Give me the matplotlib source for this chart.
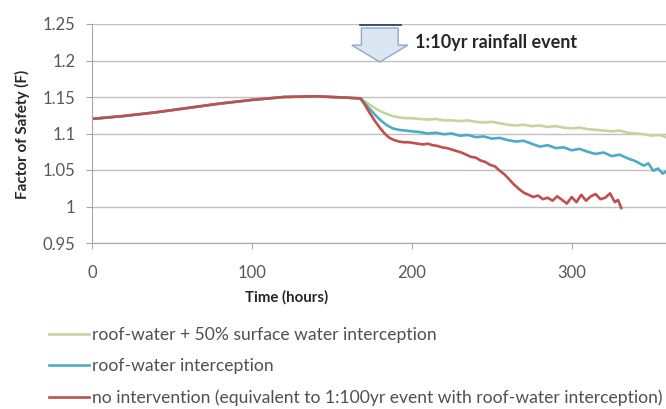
import matplotlib.pyplot as plt
import matplotlib as mpl
from matplotlib.ticker import FuncFormatter

mpl.rcParams['font.family'] = ['Lato', 'DejaVu Sans']

# shared build-up before the rainfall event
t_pre = [0, 20, 40, 60, 80, 100, 120, 140, 160, 168]
f_pre = [1.120, 1.124, 1.129, 1.135, 1.141, 1.146, 1.150, 1.151, 1.149, 1.148]

# roof-water + 50% surface water interception
t_green = [172, 176, 180, 184, 188, 192, 196, 200, 205, 210, 215, 220, 225, 230, 235,
           240, 245, 250, 255, 260, 265, 270, 275, 280, 285, 290, 295, 300, 305, 310,
           315, 320, 325, 330, 335, 340, 345, 350, 355, 359]
f_green = [1.142, 1.136, 1.131, 1.127, 1.124, 1.122, 1.121, 1.121, 1.120, 1.119, 1.120,
           1.118, 1.118, 1.117, 1.118, 1.116, 1.115, 1.116, 1.114, 1.112, 1.111, 1.112,
           1.110, 1.111, 1.109, 1.110, 1.108, 1.107, 1.108, 1.106, 1.105, 1.104, 1.103,
           1.104, 1.101, 1.100, 1.099, 1.097, 1.098, 1.095]

# roof-water interception
t_blue = [172, 176, 180, 184, 188, 192, 196, 200, 205, 210, 215, 220, 225, 230, 235,
          240, 245, 250, 255, 260, 265, 270, 275, 280, 285, 290, 295, 300, 305, 310,
          315, 320, 325, 330, 335, 340, 345, 348, 351, 354, 357, 359]
f_blue = [1.138, 1.128, 1.119, 1.112, 1.107, 1.105, 1.104, 1.103, 1.102, 1.100, 1.101,
          1.099, 1.100, 1.097, 1.098, 1.095, 1.096, 1.093, 1.094, 1.091, 1.089, 1.090,
          1.086, 1.082, 1.084, 1.080, 1.081, 1.077, 1.079, 1.075, 1.072, 1.074, 1.069,
          1.071, 1.066, 1.062, 1.056, 1.059, 1.049, 1.052, 1.045, 1.048]

# no intervention
t_red = [171, 174, 177, 180, 183, 186, 189, 192, 195, 198, 201, 204, 207, 210, 213,
         216, 219, 222, 225, 228, 231, 234, 237, 240, 243, 246, 249, 252, 255, 258,
         261, 264, 267, 270, 273, 276, 279, 282, 285, 288, 291, 294, 297, 300, 303,
         306, 309, 312, 315, 318, 321, 324, 327, 329, 331]
f_red = [1.138, 1.127, 1.117, 1.108, 1.100, 1.094, 1.091, 1.089, 1.088, 1.088, 1.087,
         1.086, 1.085, 1.086, 1.084, 1.083, 1.081, 1.080, 1.078, 1.076, 1.074, 1.071,
         1.068, 1.067, 1.063, 1.061, 1.057, 1.055, 1.049, 1.044, 1.037, 1.030, 1.024,
         1.019, 1.016, 1.013, 1.015, 1.010, 1.012, 1.008, 1.014, 1.009, 1.004, 1.013,
         1.006, 1.016, 1.008, 1.014, 1.017, 1.010, 1.012, 1.018, 1.006, 1.009, 0.998]

labels = ['roof-water + 50% surface water interception',
          'roof-water interception',
          'no intervention (equivalent to 1:100yr event with roof-water interception)']
colors = ['#c3d69b', '#4bacc6', '#c0504d']

fig = plt.figure(figsize=(6.66, 4.09), dpi=100)
ax = fig.add_axes([92 / 666, 1 - 243 / 409, 1 - 92 / 666, (243 - 24) / 409])

series = [(t_green, f_green), (t_blue, f_blue), (t_red, f_red)]
for (t, f), c, lab in zip(series, colors, labels):
    ax.plot(t_pre + t, f_pre + f, color=c, linewidth=1.9, label=lab)

ax.set_xlim(0, 359)
ax.set_ylim(0.95, 1.25)
ax.set_xticks([0, 100, 200, 300])
ax.set_yticks([0.95, 1.0, 1.05, 1.1, 1.15, 1.2, 1.25])
ax.yaxis.set_major_formatter(FuncFormatter(lambda v, p: '%g' % round(v, 2)))
ax.grid(axis='y', color='#c0c0c0', linewidth=1)
ax.set_axisbelow(True)
for s in ['top', 'right']:
    ax.spines[s].set_visible(False)
for s in ['left', 'bottom']:
    ax.spines[s].set_color('#a6a6a6')
ax.tick_params(axis='both', colors='#a6a6a6', length=4, labelsize=12,
               labelcolor='#595959')
ax.tick_params(axis='x', pad=12)
ax.tick_params(axis='y', pad=8)

fig.text(22 / 666, 1 - 134 / 409, 'Factor of Safety (F)', rotation=90, ha='center',
         va='center', fontsize=11, fontweight='bold', color='#262626')
fig.text(287 / 666, 1 - 297 / 409, 'Time (hours)', ha='center', va='center',
         fontsize=10.8, fontweight='bold', color='#262626')

# rainfall event marker
ex = 180
ax.fill([ex - 11.5, ex + 11.5, ex + 11.5, ex + 17.5, ex, ex - 17.5, ex - 11.5],
        [1.2445, 1.2445, 1.221, 1.221, 1.198, 1.221, 1.221],
        facecolor='#dce6f2', edgecolor='#8fa8c6', linewidth=1, clip_on=False, zorder=4)
ax.plot([ex - 12.5, ex + 13.5], [1.2485, 1.2485], color='#1f3864', linewidth=1.2,
        clip_on=False, zorder=4)
ax.text(202, 1.224, '1:10yr rainfall event', fontsize=13, fontweight='bold',
        color='#262626', va='center', ha='left')

fig.legend(loc='upper left', bbox_to_anchor=(40 / 666, 1 - 318 / 409), frameon=False,
           fontsize=12.6, handlelength=2.3, handletextpad=0.2, labelspacing=0.88,
           labelcolor='#505050', borderpad=0)

fig.savefig('out.png', dpi=100)
